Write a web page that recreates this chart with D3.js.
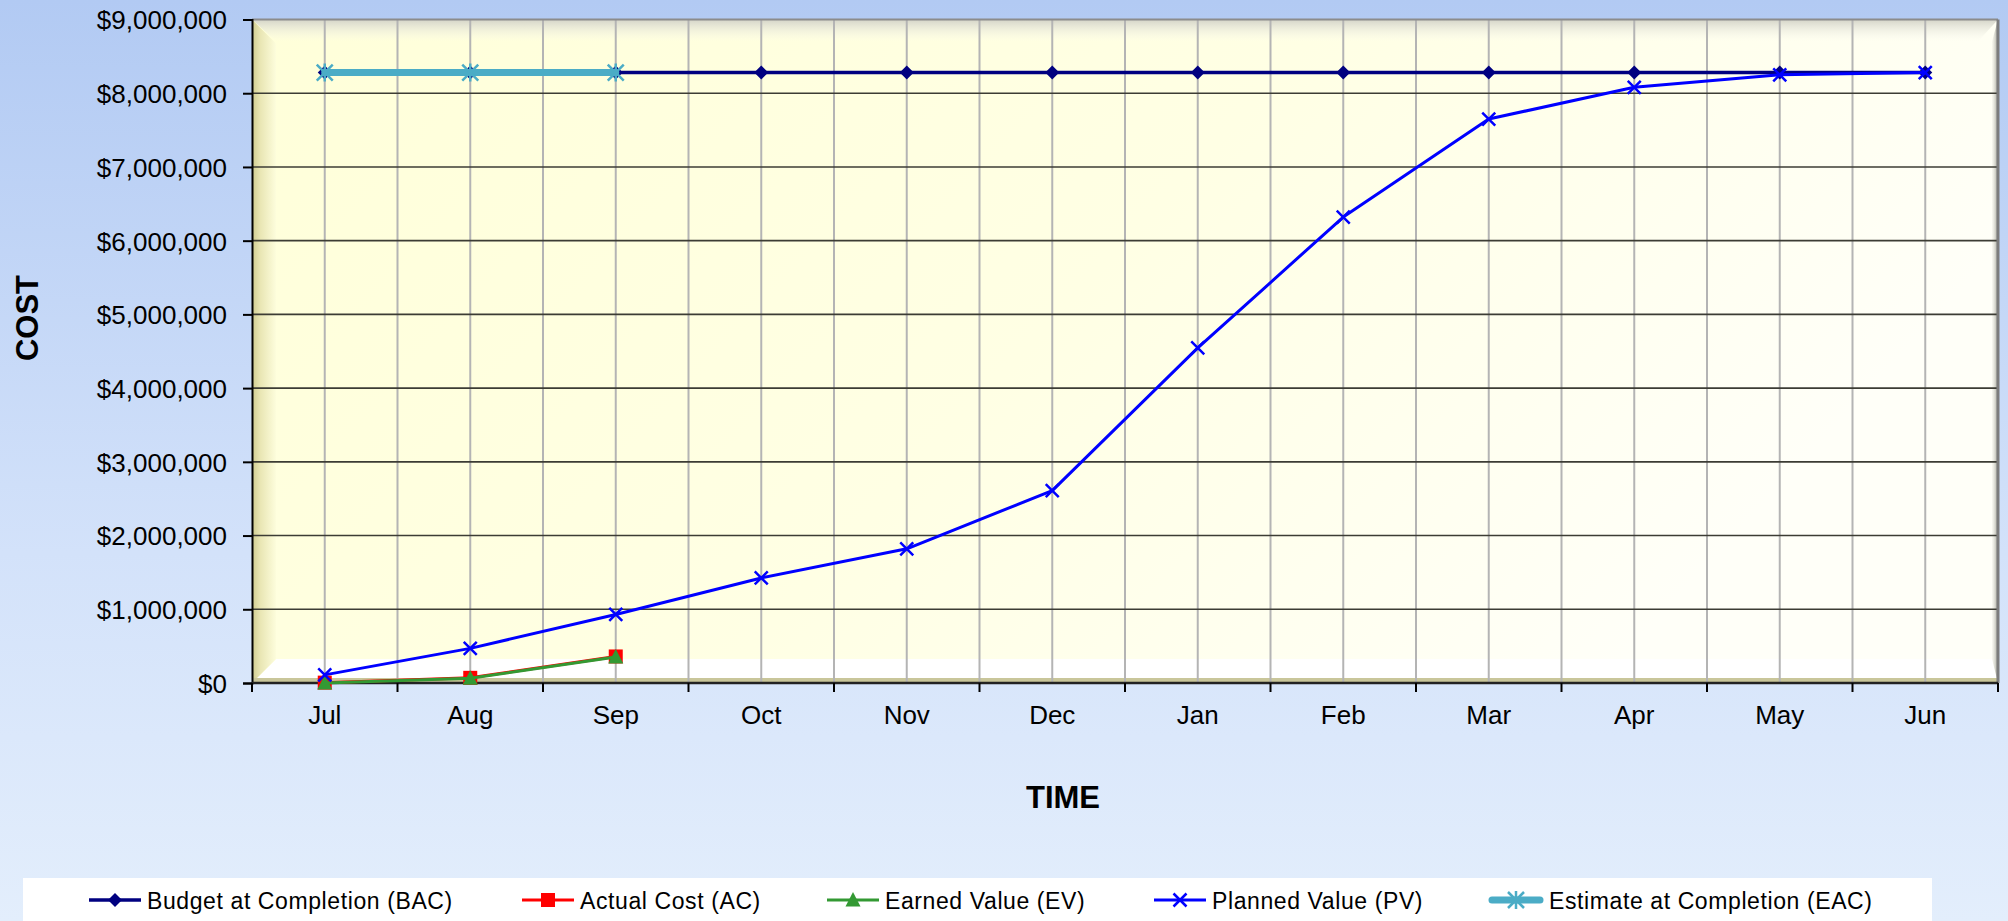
<!DOCTYPE html>
<html><head><meta charset="utf-8">
<script src="https://cdn.jsdelivr.net/npm/d3@7"></script>
<style>body{margin:0;overflow:hidden;background:#fff}</style>
</head><body>
<script>
// ---- data ----
const months = ["Jul","Aug","Sep","Oct","Nov","Dec","Jan","Feb","Mar","Apr","May","Jun"];
const bacValues = [8280000,8280000,8280000,8280000,8280000,8280000,8280000,8280000,8280000,8280000,8280000,8280000];
const acValues = [5000, 70000, 360000];
const evValues = [0, 65000, 352000];
const pvValues = [110000, 470000, 930000, 1425000, 1820000, 2610000, 4545000, 6320000, 7650000, 8080000, 8250000, 8280000];
const eacValues = [8280000, 8280000, 8280000];
const yTickValues = [0,1000000,2000000,3000000,4000000,5000000,6000000,7000000,8000000,9000000];
const seriesNames = ["Budget at Completion (BAC)","Actual Cost (AC)","Earned Value (EV)","Planned Value (PV)","Estimate at Completion (EAC)"];
const xTitle = "TIME", yTitle = "COST";

// ---- layout ----
const W = 2008, H = 921;
const x0 = 252, x1 = 1998, yTop = 19.5, yBot = 683;
const FONT = "'Liberation Sans', Arial, sans-serif";

const svg = d3.select("body").append("svg").attr("width", W).attr("height", H);
const defs = svg.append("defs");

function lg(id, xa, ya, xb, yb, stops) {
  const g = defs.append("linearGradient").attr("id", id)
    .attr("x1", xa).attr("y1", ya).attr("x2", xb).attr("y2", yb);
  stops.forEach(s => g.append("stop").attr("offset", s[0]).attr("stop-color", s[1]).attr("stop-opacity", s[2] == null ? 1 : s[2]));
}
lg("bg", 0, 0, 0, 1, [[0, "#b2caf3"], [0.6, "#d3e2fa"], [1, "#e3eefc"]]);
lg("plotFill", 0, 0, 1, 0.35, [[0, "#ffffd9"], [0.55, "#ffffe4"], [1, "#fffff8"]]);
lg("leftBevel", 0, 0, 1, 0, [[0, "#cfcb8f"], [0.35, "#e9e6b4"], [1, "#fdfddc"]]);
lg("topBevel", 0, 0, 0, 1, [[0, "#d4d4c8"], [1, "#f6f6ec", 0.0]]);
lg("rightBevel", 1, 0, 0, 0, [[0, "#9a9a90"], [1, "#e8e8e0", 0.3]]);

svg.append("rect").attr("width", W).attr("height", H).attr("fill", "url(#bg)");

const x = d3.scaleBand().domain(months).range([x0, x1]).padding(0);
const bw = x.bandwidth();
const cx = m => x(m) + bw / 2;
const y = d3.scaleLinear().domain([0, 9000000]).range([yBot, yTop]);

// plot area with bevel
const B = 24;
svg.append("rect").attr("x", x0).attr("y", yTop).attr("width", x1 - x0).attr("height", yBot - yTop).attr("fill", "url(#plotFill)");
svg.append("path").attr("d", `M${x0},${yTop}L${x1},${yTop}L${x1-20},${yTop+22}L${x0+B},${yTop+22}Z`).attr("fill", "url(#topBevel)");
svg.append("path").attr("d", `M${x0},${yBot}L${x0+B},${yBot-B}L${x1-6},${yBot-B}L${x1},${yBot}Z`).attr("fill", "#ffffff");
svg.append("path").attr("d", `M${x0},${yTop}L${x0+B},${yTop+B}L${x0+B},${yBot-B}L${x0},${yBot}Z`).attr("fill", "url(#leftBevel)");
svg.append("path").attr("d", `M${x1},${yTop}L${x1-6},${yTop+22}L${x1-6},${yBot-B}L${x1},${yBot}Z`).attr("fill", "url(#rightBevel)");
svg.append("rect").attr("x", x0).attr("y", yBot - 5).attr("width", x1 - x0).attr("height", 5).attr("fill", "#c9c69a");

// vertical gridlines (band edges and centers)
const vLines = [];
months.forEach((m, i) => { if (i > 0) vLines.push(x(m)); vLines.push(cx(m)); });
svg.append("g").selectAll("line").data(vLines).join("line")
  .attr("x1", d => d).attr("x2", d => d).attr("y1", yTop).attr("y2", yBot)
  .attr("stroke", "#b4b4b4").attr("stroke-width", 2);

// horizontal gridlines
svg.append("g").selectAll("line").data(yTickValues.filter(v => v > 0 && v < 9000000)).join("line")
  .attr("x1", x0).attr("x2", x1).attr("y1", d => y(d)).attr("y2", d => y(d))
  .attr("stroke", "#3c3c34").attr("stroke-width", 1.6);

// plot border
svg.append("line").attr("x1", x0).attr("x2", x1).attr("y1", yTop).attr("y2", yTop).attr("stroke", "#8c8c8c").attr("stroke-width", 2);
svg.append("line").attr("x1", x1).attr("x2", x1).attr("y1", yTop).attr("y2", yBot).attr("stroke", "#7c7c7c").attr("stroke-width", 3);

// y axis
const yAxis = svg.append("g").attr("transform", `translate(${x0},0)`)
  .call(d3.axisLeft(y).tickValues(yTickValues).tickSize(9).tickPadding(16)
    .tickFormat(d => "$" + d3.format(",")(d)));
yAxis.select(".domain").attr("stroke", "#000").attr("stroke-width", 2);
yAxis.selectAll(".tick line").attr("stroke", "#000").attr("stroke-width", 2);
yAxis.selectAll("text").attr("font-family", FONT).attr("font-size", 26).attr("fill", "#000").attr("dy", "0.36em");

// x axis: labels at centers, ticks at band edges
const xAxis = svg.append("g").attr("transform", `translate(0,${yBot})`)
  .call(d3.axisBottom(x).tickSize(0).tickPadding(23));
xAxis.select(".domain").remove();
xAxis.selectAll("text").attr("font-family", FONT).attr("font-size", 26).attr("fill", "#000").attr("dy", "0.71em");
svg.append("line").attr("x1", x0).attr("x2", x1).attr("y1", yBot).attr("y2", yBot).attr("stroke", "#222").attr("stroke-width", 2.5);
const edges = months.map(m => x(m)).concat([x1]);
svg.append("g").selectAll("line").data(edges).join("line")
  .attr("x1", d => d).attr("x2", d => d).attr("y1", yBot).attr("y2", yBot + 9)
  .attr("stroke", "#000").attr("stroke-width", 2);

// axis titles
svg.append("text").attr("x", 1063).attr("y", 808).attr("text-anchor", "middle")
  .attr("font-family", FONT).attr("font-weight", "bold").attr("font-size", 31).text(xTitle);
svg.append("text").attr("transform", "translate(38,318) rotate(-90)").attr("text-anchor", "middle")
  .attr("font-family", FONT).attr("font-weight", "bold").attr("font-size", 31).text(yTitle);

// markers
function drawMarker(g, type, px, py, color) {
  if (type === "diamond") {
    g.append("path").attr("d", `M${px},${py-7}L${px+7},${py}L${px},${py+7}L${px-7},${py}Z`).attr("fill", color);
  } else if (type === "square") {
    g.append("rect").attr("x", px - 7).attr("y", py - 7).attr("width", 14).attr("height", 14).attr("fill", color);
  } else if (type === "triangle") {
    g.append("path").attr("d", `M${px},${py-8}L${px+7.5},${py+6.5}L${px-7.5},${py+6.5}Z`).attr("fill", color);
  } else if (type === "x") {
    g.append("path").attr("d", `M${px-6.5},${py-6.5}L${px+6.5},${py+6.5}M${px-6.5},${py+6.5}L${px+6.5},${py-6.5}`)
      .attr("stroke", color).attr("stroke-width", 2.5).attr("fill", "none");
  } else if (type === "star") {
    g.append("path").attr("d", `M${px-8},${py-8}L${px+8},${py+8}M${px-8},${py+8}L${px+8},${py-8}M${px},${py-9}L${px},${py+9}`)
      .attr("stroke", color).attr("stroke-width", 2.5).attr("fill", "none");
  }
}

const series = [
  { name: seriesNames[0], values: bacValues, color: "#000080", width: 3.5, marker: "diamond", mcolor: "#000080" },
  { name: seriesNames[1], values: acValues, color: "#ff0000", width: 3, marker: "square", mcolor: "#ff0000" },
  { name: seriesNames[2], values: evValues, color: "#339933", width: 3, marker: "triangle", mcolor: "#339933" },
  { name: seriesNames[3], values: pvValues, color: "#0000ff", width: 3, marker: "x", mcolor: "#0000ff" },
  { name: seriesNames[4], values: eacValues, color: "#4bacc6", width: 7, marker: "star", mcolor: "#4bacc6", cap: "round" }
];

const line = d3.line().x((d, i) => cx(months[i])).y(d => y(d));
series.forEach(s => {
  const g = svg.append("g");
  g.append("path").datum(s.values).attr("d", line).attr("fill", "none")
    .attr("stroke", s.color).attr("stroke-width", s.width).attr("stroke-linejoin", "round")
    .attr("stroke-linecap", s.cap || "butt");
  s.values.forEach((v, i) => drawMarker(g, s.marker, cx(months[i]), y(v), s.mcolor));
});

// legend
svg.append("rect").attr("x", 23).attr("y", 878).attr("width", 1909).attr("height", 50).attr("fill", "#ffffff");
const legX = [89, 522, 827, 1154, 1489];
const legY = 900;
series.forEach((s, i) => {
  const g = svg.append("g");
  const lx = legX[i];
  const len = (i === 4) ? 54 : 52;
  g.append("line").attr("x1", lx + (s.cap ? 3 : 0)).attr("x2", lx + len - (s.cap ? 3 : 0)).attr("y1", legY).attr("y2", legY)
    .attr("stroke", s.color).attr("stroke-width", s.width).attr("stroke-linecap", s.cap || "butt");
  drawMarker(g, s.marker, lx + len / 2, legY, s.mcolor);
  g.append("text").attr("x", lx + len + 6).attr("y", 909).attr("font-family", FONT)
    .attr("font-size", 23).attr("letter-spacing", 0.6).attr("fill", "#000").text(s.name);
});
</script>
</body></html>
